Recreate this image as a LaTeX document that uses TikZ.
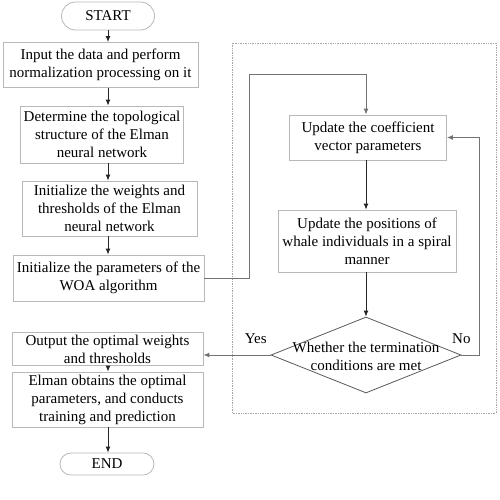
\documentclass[tikz,border=0pt]{standalone}
\usepackage{fontspec}
\setmainfont{Liberation Serif}
\usetikzlibrary{arrows.meta,shapes.misc,shapes.geometric,calc}

\tikzset{
    box/.style={draw=black!28, line width=0.8pt, align=center, inner sep=2pt},
    term/.style={draw=black!28, line width=0.8pt, rounded rectangle, inner sep=2pt},
    dec/.style={draw=black!65, line width=0.8pt, diamond, inner sep=0pt},
    arr/.style={-{Latex[length=6pt,width=5pt]}, line width=0.9pt, black!85},
    loopline/.style={-{Latex[length=6pt,width=5pt]}, line width=1pt, black!55},
    lbl/.style={text=black},
}

\begin{document}
\begin{tikzpicture}[x=1pt, y=-1pt, font=\fontsize{15}{18}\selectfont]
    \useasboundingbox (0,0) rectangle (500,499);

    % dotted frame round the WOA loop
    \draw[black!35, densely dotted, line width=0.7pt] (232,43) rectangle (496,413);

    % main column
    \node[term, minimum width=97pt, minimum height=28pt] (start) at (108,16) {START};
    \node[box, minimum width=195pt, minimum height=45pt] (b1) at (100.5,65)
        {Input the data and perform\\normalization processing on it};
    \node[box, minimum width=163pt, minimum height=57pt] (b2) at (102,134.5)
        {Determine the topological\\structure of the Elman\\neural network};
    \node[box, minimum width=175pt, minimum height=55pt] (b3) at (109.5,208.5)
        {Initialize the weights and\\thresholds of the Elman\\neural network};
    \node[box, minimum width=191pt, minimum height=46pt] (b4) at (108.5,278)
        {Initialize the parameters of the\\WOA algorithm};
    \node[box, minimum width=191pt, minimum height=32pt] (b5) at (107.5,349)
        {Output the optimal weights\\and thresholds};
    \node[box, minimum width=191pt, minimum height=55pt] (b6) at (107.5,399.5)
        {Elman obtains the optimal\\parameters, and conducts\\training and prediction};
    \node[term, minimum width=98pt, minimum height=22pt] (end) at (107,464) {END};

    % WOA loop
    \node[box, minimum width=157pt, minimum height=45pt] (c1) at (368,137.5)
        {Update the coefficient\\vector parameters};
    \node[box, minimum width=178pt, minimum height=62pt] (c2) at (367,241)
        {Update the positions of\\whale individuals in a spiral\\manner};
    \node[dec, minimum width=190pt, minimum height=76pt,
        label={[align=center, yshift=-1pt]center:Whether the termination\\conditions are met}]
        (dia) at (366,355) {};

    \foreach \a/\b in {start/b1, b1/b2, b2/b3, b3/b4, b5/b6, b6/end} {
        \draw[arr] (start.south |- \a.south) -- (start.south |- \b.north);
    }
    \draw[arr] (c1.south -| dia.north) -- (c2.north -| dia.north);
    \draw[arr] (c2.south -| dia.north) -- (dia.north);

    \draw[loopline] (b4.east) -- ++(45,0) -- ++(0,-204) -| (c1.north -| dia.north);
    \draw[loopline] (dia.east) -- node[lbl, pos=0, above=8pt] {No} ++(18,0) |- (c1.east);
    \draw[loopline] (dia.west) -- node[lbl, pos=0.22, above=8pt] {Yes} (dia.west -| b5.east);
\end{tikzpicture}
\end{document}
